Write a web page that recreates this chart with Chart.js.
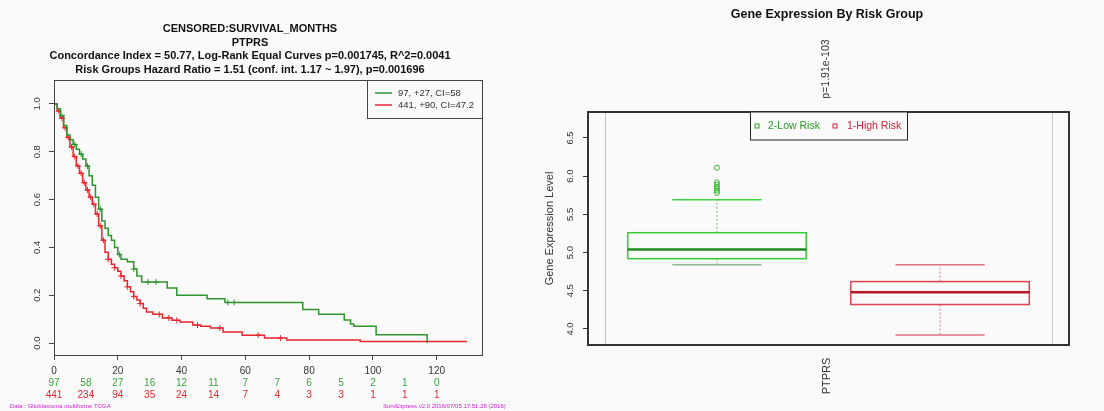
<!DOCTYPE html>
<html>
<head>
<meta charset="utf-8">
<script src="https://cdn.jsdelivr.net/npm/chart.js@4.4.0/dist/chart.umd.min.js"></script>
<style>
  html, body { margin: 0; padding: 0; background: #fafafa; }
  #survChart { position: absolute; left: 0; top: 0; }
  #boxChart { position: absolute; left: 530px; top: 0; }
</style>
</head>
<body>
<canvas id="survChart" width="530" height="411"></canvas>
<canvas id="boxChart" width="574" height="411"></canvas>
<script>
// ---- survival panel data ----
const survTitle = [
  'CENSORED:SURVIVAL_MONTHS',
  'PTPRS',
  'Concordance Index = 50.77, Log-Rank Equal Curves p=0.001745, R^2=0.0041',
  'Risk Groups Hazard Ratio = 1.51 (conf. int. 1.17 ~ 1.97), p=0.001696'
];
const survLegend = ['97, +27, CI=58', '441, +90, CI=47.2'];
const monthTicks = [0, 20, 40, 60, 80, 100, 120];
const survTicks = [0, 0.2, 0.4, 0.6, 0.8, 1.0];
const survTickLabels = ['0.0', '0.2', '0.4', '0.6', '0.8', '1.0'];

const atRiskMonths = [0, 10, 20, 30, 40, 50, 60, 70, 80, 90, 100, 110, 120];
const lowAtRisk = [97, 58, 27, 16, 12, 11, 7, 7, 6, 5, 2, 1, 0];
const highAtRisk = [441, 234, 94, 35, 24, 14, 7, 4, 3, 3, 1, 1, 1];

const lowTimes = [0, 1, 2, 3, 4, 5, 6, 7, 8, 9, 10, 11, 12, 13, 14, 15, 16, 17, 18, 19, 20, 21, 23, 25, 26, 27.5, 35.5, 38.5, 48, 53.6, 78, 83, 91, 93, 94, 101, 117];
const lowSurv  = [1, 0.98, 0.95, 0.91, 0.87, 0.85, 0.83, 0.81, 0.79, 0.77, 0.74, 0.70, 0.66, 0.61, 0.56, 0.51, 0.48, 0.45, 0.43, 0.40, 0.37, 0.35, 0.34, 0.31, 0.28, 0.255, 0.23, 0.20, 0.185, 0.17, 0.14, 0.12, 0.096, 0.08, 0.07, 0.035, 0];
const lowCensor = [2.5, 6.5, 8.5, 10.5, 14.5, 20.5, 25, 29.5, 32, 54.5, 56.5];

const highTimes = [0, 1, 2, 3, 4, 5, 6, 7, 8, 9, 10, 11, 12, 13, 14, 15, 16, 17, 18, 19, 20, 21, 22, 23, 24, 25, 26, 27, 28, 29, 31, 34, 37, 39.5, 43.5, 46, 49, 53, 59, 66, 73, 96, 129.5];
const highSurv  = [1, 0.97, 0.94, 0.90, 0.86, 0.82, 0.78, 0.74, 0.71, 0.67, 0.64, 0.61, 0.58, 0.54, 0.49, 0.43, 0.38, 0.35, 0.33, 0.315, 0.30, 0.28, 0.26, 0.235, 0.215, 0.195, 0.18, 0.165, 0.145, 0.13, 0.12, 0.105, 0.095, 0.088, 0.075, 0.07, 0.063, 0.046, 0.033, 0.021, 0.013, 0.006, 0.006];
const highCensor = [1.5, 2.5, 3.5, 4.5, 5.5, 6.5, 7.5, 8.5, 9.5, 10.5, 11.5, 12.5, 13.5, 14.5, 15.5, 17, 19, 21, 23, 25, 27, 33, 36, 38.5, 45, 52, 64, 71];

// ---- box plot panel data ----
const boxTitle = 'Gene Expression By Risk Group';
const boxPValue = 'p=1.91e-103';
const geneName = 'PTPRS';
const boxGroups = ['2-Low Risk', '1-High Risk'];
const boxPos = [1, 2];
const boxLow = [4.84, 3.92];
const boxQ1 = [4.92, 4.32];
const boxMedian = [5.04, 4.48];
const boxQ3 = [5.26, 4.62];
const boxHigh = [5.69, 4.84];
const lowOutliers = [5.78, 5.81, 5.84, 5.86, 5.89, 5.92, 6.11];
const exprTicks = [4.0, 4.5, 5.0, 5.5, 6.0, 6.5];
const exprTickLabels = ['4.0', '4.5', '5.0', '5.5', '6.0', '6.5'];

const GREEN = '#2e952e';
const RED = '#e8262e';
const FONT = '"Liberation Sans", Arial, sans-serif';

function survAt(times, surv, t) {
  let s = surv[0];
  for (let i = 0; i < times.length; i++) {
    if (times[i] <= t) s = surv[i];
  }
  return s;
}

const toPoints = (xs, ys) => xs.map((v, i) => ({ x: v, y: ys[i] }));

const survDecor = {
  id: 'survDecor',
  afterDraw(chart) {
    const { ctx, chartArea: a, scales: { x, y } } = chart;
    ctx.save();
    ctx.strokeStyle = '#444';
    ctx.lineWidth = 1;
    ctx.strokeRect(a.left + 0.5, a.top + 0.5, a.right - a.left, a.bottom - a.top);

    ctx.fillStyle = '#111';
    ctx.textAlign = 'center';
    ctx.textBaseline = 'middle';
    ctx.font = 'bold 11px ' + FONT;
    survTitle.forEach((t, i) => ctx.fillText(t, 250, 29 + i * 13.5));

    // rotated y tick labels
    ctx.font = '9.5px ' + FONT;
    ctx.fillStyle = '#333';
    survTicks.forEach((v, i) => {
      ctx.save();
      ctx.translate(37, y.getPixelForValue(v));
      ctx.rotate(-Math.PI / 2);
      ctx.fillText(survTickLabels[i], 0, 0);
      ctx.restore();
    });

    // numbers at risk
    ctx.font = '10px ' + FONT;
    atRiskMonths.forEach((m, i) => {
      const px = x.getPixelForValue(m);
      ctx.fillStyle = '#3aa33a';
      ctx.fillText(lowAtRisk[i], px, 383);
      ctx.fillStyle = RED;
      ctx.fillText(highAtRisk[i], px, 395);
    });

    // legend
    ctx.fillStyle = '#fafafa';
    ctx.fillRect(367, 80, 115, 38);
    ctx.strokeStyle = '#444';
    ctx.strokeRect(367.5, 80.5, 115, 38);
    ctx.textAlign = 'left';
    ctx.font = '9.5px ' + FONT;
    [GREEN, RED].forEach((c, i) => {
      const ly = 93 + i * 12;
      ctx.strokeStyle = c;
      ctx.lineWidth = 1.5;
      ctx.beginPath();
      ctx.moveTo(375, ly);
      ctx.lineTo(392, ly);
      ctx.stroke();
      ctx.fillStyle = '#333';
      ctx.fillText(survLegend[i], 398, ly);
    });

    // footer notes
    ctx.font = '6px ' + FONT;
    ctx.fillStyle = '#d020d0';
    ctx.fillText('Data : Glioblastoma multiforme TCGA', 10, 406);
    ctx.fillText('SurvExpress v2.0 2016/07/05 17:51:28 (2016)', 383, 406);
    ctx.restore();
  }
};

new Chart(document.getElementById('survChart'), {
  type: 'line',
  data: {
    datasets: [
      { label: survLegend[0], data: toPoints(lowTimes, lowSurv), stepped: 'before', borderColor: GREEN, borderWidth: 1.5, pointRadius: 0, fill: false },
      { label: survLegend[1], data: toPoints(highTimes, highSurv), stepped: 'before', borderColor: RED, borderWidth: 1.5, pointRadius: 0, fill: false },
      { type: 'scatter', data: lowCensor.map(t => ({ x: t, y: survAt(lowTimes, lowSurv, t) })), pointStyle: 'cross', pointRadius: 3, borderColor: GREEN, borderWidth: 1, showLine: false },
      { type: 'scatter', data: highCensor.map(t => ({ x: t, y: survAt(highTimes, highSurv, t) })), pointStyle: 'cross', pointRadius: 3, borderColor: RED, borderWidth: 1, showLine: false }
    ]
  },
  options: {
    responsive: false,
    animation: false,
    layout: { padding: { top: 80, right: 48, left: 0, bottom: 0 } },
    plugins: { legend: { display: false }, tooltip: { enabled: false } },
    scales: {
      x: {
        type: 'linear', min: 0, max: 134.2,
        afterBuildTicks: s => { s.ticks = monthTicks.map(v => ({ value: v })); },
        afterFit: s => { s.height = 56; },
        border: { display: false },
        grid: { drawOnChartArea: false, drawTicks: true, tickLength: 5, color: '#444' },
        ticks: { color: '#333', font: { size: 10, family: FONT }, padding: 5, maxRotation: 0 }
      },
      y: {
        type: 'linear', min: -0.05, max: 1.1,
        afterBuildTicks: s => { s.ticks = survTicks.map(v => ({ value: v })); },
        afterFit: s => { s.width = 54; },
        border: { display: false },
        grid: { drawOnChartArea: false, drawTicks: true, tickLength: 5, color: '#444' },
        ticks: { display: false }
      }
    }
  },
  plugins: [survDecor]
});

const boxDecor = {
  id: 'boxDecor',
  beforeDatasetsDraw(chart) {
    const { ctx, chartArea: a, scales: { x, y } } = chart;
    ctx.save();
    // light reference lines
    ctx.strokeStyle = '#c4c4c4';
    ctx.lineWidth = 1;
    [0.5, 2.5].forEach(v => {
      const px = Math.round(x.getPixelForValue(v)) + 0.5;
      ctx.beginPath(); ctx.moveTo(px, a.top); ctx.lineTo(px, a.bottom); ctx.stroke();
    });
    const boxCol = ['#33cc33', '#e04050'];
    const medCol = ['#1f8a1f', '#b81828'];
    const capCol = ['#7ab87a', '#e07080'];
    boxPos.forEach((p, i) => {
      const l = x.getPixelForValue(p - 0.4), r = x.getPixelForValue(p + 0.4);
      const cl = x.getPixelForValue(p - 0.2), cr = x.getPixelForValue(p + 0.2);
      const cx = x.getPixelForValue(p);
      const yq1 = y.getPixelForValue(boxQ1[i]), yq3 = y.getPixelForValue(boxQ3[i]);
      // whiskers
      ctx.strokeStyle = capCol[i];
      ctx.lineWidth = 1;
      ctx.setLineDash([2, 2]);
      ctx.beginPath();
      ctx.moveTo(cx, yq3); ctx.lineTo(cx, y.getPixelForValue(boxHigh[i]));
      ctx.moveTo(cx, yq1); ctx.lineTo(cx, y.getPixelForValue(boxLow[i]));
      ctx.stroke();
      ctx.setLineDash([]);
      ctx.lineWidth = 1.5;
      [boxHigh[i], boxLow[i]].forEach((v, k) => {
        ctx.strokeStyle = (i === 0 && k === 1) ? '#8fb88f' : (i === 0 ? '#3dd13d' : capCol[i]);
        const py = y.getPixelForValue(v);
        ctx.beginPath(); ctx.moveTo(cl, py); ctx.lineTo(cr, py); ctx.stroke();
      });
      // box
      ctx.strokeStyle = boxCol[i];
      ctx.lineWidth = 1.5;
      ctx.strokeRect(l, yq3, r - l, yq1 - yq3);
      // median
      ctx.strokeStyle = medCol[i];
      ctx.lineWidth = 2.5;
      const ym = y.getPixelForValue(boxMedian[i]);
      ctx.beginPath(); ctx.moveTo(l, ym); ctx.lineTo(r, ym); ctx.stroke();
    });
    ctx.restore();
  },
  afterDraw(chart) {
    const { ctx, chartArea: a, scales: { y } } = chart;
    ctx.save();
    ctx.strokeStyle = '#333';
    ctx.lineWidth = 2;
    ctx.strokeRect(a.left, a.top, a.right - a.left, a.bottom - a.top);

    ctx.textAlign = 'center';
    ctx.textBaseline = 'middle';
    ctx.fillStyle = '#111';
    ctx.font = 'bold 12.5px ' + FONT;
    ctx.fillText(boxTitle, 297, 15);

    const vText = (t, px, py, font) => {
      ctx.save();
      ctx.font = font;
      ctx.translate(px, py);
      ctx.rotate(-Math.PI / 2);
      ctx.fillText(t, 0, 0);
      ctx.restore();
    };
    ctx.fillStyle = '#333';
    vText(boxPValue, 296, 69, '10.5px ' + FONT);
    vText(geneName, 297, 376, '11px ' + FONT);
    vText('Gene Expression Level', 20, (a.top + a.bottom) / 2, '11px ' + FONT);
    exprTicks.forEach((v, i) => vText(exprTickLabels[i], 40, y.getPixelForValue(v), '9.5px ' + FONT));

    // legend
    ctx.fillStyle = '#fafafa';
    ctx.fillRect(220, a.top, 157, 28);
    ctx.strokeStyle = '#222';
    ctx.lineWidth = 1;
    ctx.strokeRect(220.5, a.top, 157, 28);
    ctx.font = '10.5px ' + FONT;
    ctx.textAlign = 'left';
    const legCol = ['#2a9a2a', '#d0203a'];
    [[227, 238], [305, 317]].forEach(([mx, tx], i) => {
      ctx.strokeStyle = legCol[i];
      ctx.strokeRect(mx - 2, 124, 4, 4);
      ctx.fillStyle = legCol[i];
      ctx.fillText(boxGroups[i], tx, 126);
    });
    ctx.restore();
  }
};

new Chart(document.getElementById('boxChart'), {
  type: 'scatter',
  data: {
    datasets: [
      { label: 'outliers', data: lowOutliers.map(v => ({ x: boxPos[0], y: v })), pointStyle: 'circle', pointRadius: 2.5, borderColor: '#33b833', backgroundColor: 'rgba(0,0,0,0)', borderWidth: 1 }
    ]
  },
  options: {
    responsive: false,
    animation: false,
    layout: { padding: { top: 112, right: 35, left: 0, bottom: 0 } },
    plugins: { legend: { display: false }, tooltip: { enabled: false } },
    scales: {
      x: {
        type: 'linear', min: 0.422, max: 2.578,
        afterFit: s => { s.height = 66; },
        border: { display: false },
        grid: { display: false },
        ticks: { display: false }
      },
      y: {
        type: 'linear', min: 3.79, max: 6.84,
        afterBuildTicks: s => { s.ticks = exprTicks.map(v => ({ value: v })); },
        afterFit: s => { s.width = 58; },
        border: { display: false },
        grid: { drawOnChartArea: false, drawTicks: true, tickLength: 5, color: '#333' },
        ticks: { display: false }
      }
    }
  },
  plugins: [boxDecor]
});
</script>
</body>
</html>
